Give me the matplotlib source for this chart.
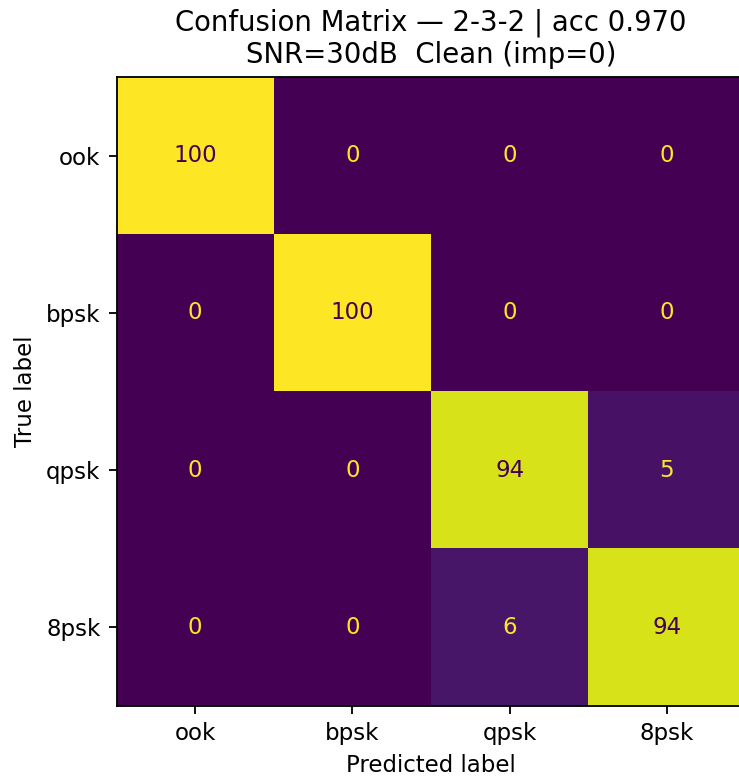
import numpy as np
import matplotlib
matplotlib.use("Agg")
import matplotlib.pyplot as plt

labels = ["ook", "bpsk", "qpsk", "8psk"]
cm = np.array([
    [100, 0, 0, 0],
    [0, 100, 0, 0],
    [0, 0, 94, 5],
    [0, 0, 6, 94],
])
title = "Confusion Matrix \u2014 2-3-2 | acc 0.970\nSNR=30dB  Clean (imp=0)"

DPI = 165
W, H = 739, 778
fig = plt.figure(figsize=(W / DPI, H / DPI), dpi=DPI)
# axes runs past the right edge, as in the reference crop
ax = fig.add_axes([116.5 / W, 72 / H, 629 / W, 629 / H])
cmap = plt.get_cmap("viridis")
ax.imshow(cm, cmap=cmap, vmin=cm.min(), vmax=cm.max(), interpolation="nearest")
thresh = (cm.max() + cm.min()) / 2
for i in range(cm.shape[0]):
    for j in range(cm.shape[1]):
        c = cmap(0.0) if cm[i, j] > thresh else cmap(1.0)
        ax.text(j, i, str(cm[i, j]), ha="center", va="center", color=c)
ax.set_xticks(range(len(labels)), labels)
ax.set_yticks(range(len(labels)), labels)
ax.set_xlabel("Predicted label")
ax.set_ylabel("True label")
ax.set_title(title)
fig.savefig("out.png", dpi=DPI)
